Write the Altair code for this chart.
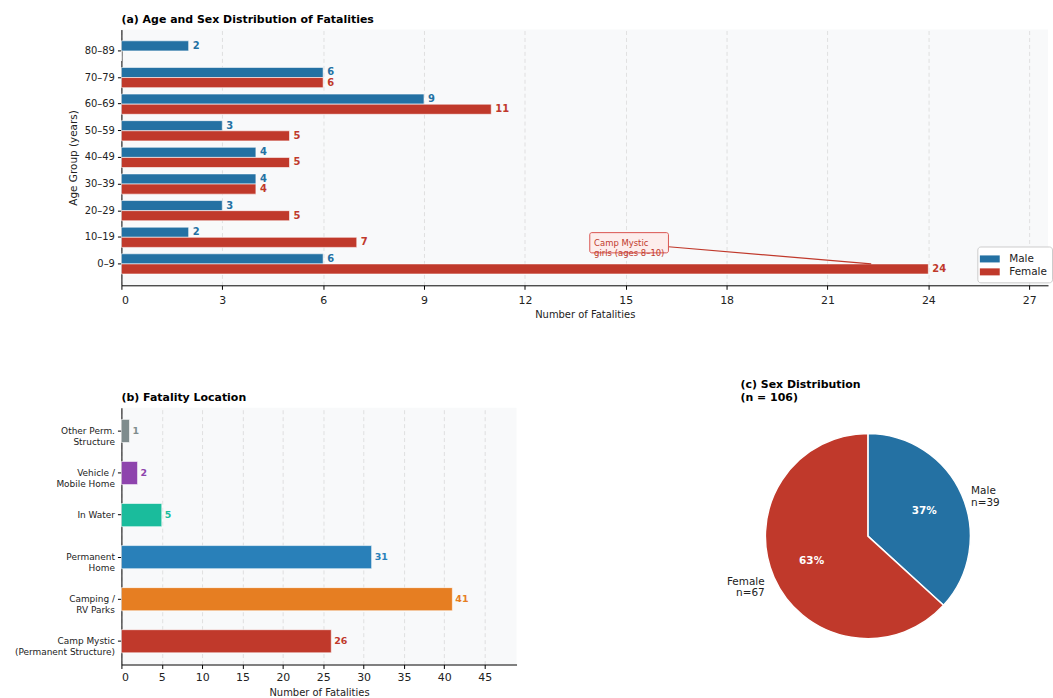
import altair as alt
import pandas as pd

FONT = "DejaVu Sans"

# ---------------- data ----------------
age_groups = ["80–89", "70–79", "60–69", "50–59", "40–49", "30–39", "20–29", "10–19", "0–9"]
male_counts = [2, 6, 9, 3, 4, 4, 3, 2, 6]
female_counts = [0, 6, 11, 5, 5, 4, 5, 7, 24]
sexes = ["Male", "Female"]
sex_colors = ["#2471a3", "#c0392b"]

locations = ["Other Perm.\nStructure", "Vehicle /\nMobile Home", "In Water",
             "Permanent\nHome", "Camping /\nRV Parks", "Camp Mystic\n(Permanent Structure)"]
location_counts = [1, 2, 5, 31, 41, 26]
location_colors = ["#7f8c8d", "#8e44ad", "#1abc9c", "#2980b9", "#e67e22", "#c0392b"]

pie_sexes = ["Male", "Female"]
pie_counts = [39, 67]
pie_colors = ["#2471a3", "#c0392b"]

annot_text = ["Camp Mystic", "girls (ages 8–10)"]

# ---------------- tables ----------------
age_df = pd.DataFrame(
    [{"age": a, "sex": "Male", "n": m} for a, m in zip(age_groups, male_counts)]
    + [{"age": a, "sex": "Female", "n": f} for a, f in zip(age_groups, female_counts)]
)
loc_df = pd.DataFrame({"loc": locations, "n": location_counts, "col": location_colors})
total = sum(pie_counts)
pie_df = pd.DataFrame({
    "sex": pie_sexes, "n": pie_counts, "col": pie_colors, "order": [0, 1],
    "lab": [f"{s}\nn={c}" for s, c in zip(pie_sexes, pie_counts)],
    "pct": [f"{round(100 * c / total)}%" for c in pie_counts],
})
annot_df = pd.DataFrame({"age": ["10–19"], "x0": [13.93], "x1": [16.27], "tx": [14.0],
                         "txt": ["\n".join(annot_text)]})
arrow_df = pd.DataFrame({"age": ["10–19"], "age2": ["0–9"], "x0": [16.27], "x1": [22.3]})

BG = alt.ViewBackground(fill="#f8f9fa", stroke=None)


def ptitle(text):
    return alt.TitleParams(text, anchor="start", frame="group", fontSize=11, fontWeight="bold",
                           font=FONT, offset=5, color="black", lineHeight=13)


# ---------------- panel (a) ----------------
W_A, H_A = 931, 257
xA = alt.Scale(domain=[0, 27.56], nice=False, zero=True)
yA = alt.Scale(domain=age_groups, paddingInner=0.24, paddingOuter=0.4237)

x_axis_a = alt.Axis(values=list(range(0, 28, 3)), title="Number of Fatalities", grid=True,
                    gridDash=[4, 3], gridColor="#d9d9d9", gridWidth=0.8,
                    labelFontSize=11, titleFontSize=10, titleFontWeight="normal",
                    labelPadding=5, titlePadding=4)
y_axis_a = alt.Axis(title="Age Group (years)", grid=False, labelFontSize=10,
                    titleFontSize=10.5, titleFontWeight="normal", labelPadding=3, titlePadding=6)

bars_a = alt.Chart(age_df).mark_bar(stroke="white", strokeWidth=0.6).encode(
    x=alt.X("n:Q", scale=xA, axis=x_axis_a),
    y=alt.Y("age:N", scale=yA, sort=age_groups, axis=y_axis_a),
    yOffset=alt.YOffset("sex:N", sort=sexes, scale=alt.Scale(domain=sexes)),
    color=alt.Color("sex:N", scale=alt.Scale(domain=sexes, range=sex_colors),
                    legend=alt.Legend(title=None, orient="none", legendX=860, legendY=218,
                                      symbolType="M-1.33,-0.47H1.33V0.47H-1.33Z", symbolSize=225,
                                      symbolStrokeWidth=0, labelFontSize=10.5, labelColor="#222",
                                      labelFont=FONT, fillColor="white", strokeColor="#cccccc",
                                      cornerRadius=3, padding=5, rowPadding=0, labelOffset=12)),
)
labels_a = alt.Chart(age_df).transform_filter("datum.n > 0").mark_text(
    align="left", baseline="middle", dx=4, fontSize=10, fontWeight="bold", font=FONT
).encode(
    x=alt.X("n:Q", scale=xA),
    y=alt.Y("age:N", scale=yA, sort=age_groups),
    yOffset=alt.YOffset("sex:N", sort=sexes, scale=alt.Scale(domain=sexes)),
    text="n:Q",
    color=alt.Color("sex:N", scale=alt.Scale(domain=sexes, range=sex_colors), legend=None),
)
box_a = alt.Chart(annot_df).mark_bar(fill="#fdedec", stroke="#d9534f", strokeWidth=1,
                                     cornerRadius=2, yOffset=5.5).encode(
    x=alt.X("x0:Q", scale=xA), x2="x1:Q", y=alt.Y("age:N", scale=yA, sort=age_groups))
text_a = alt.Chart(annot_df).mark_text(align="left", baseline="middle", dx=2, yOffset=5.5,
                                       fontSize=8.5, color="#c0392b", lineBreak="\n",
                                       lineHeight=10, font=FONT).encode(
    x=alt.X("tx:Q", scale=xA), y=alt.Y("age:N", scale=yA, sort=age_groups), text="txt:N")
arrow_a = alt.Chart(arrow_df).mark_rule(color="#c0392b", strokeWidth=1.2, yOffset=9.5,
                                        y2Offset=0).encode(
    x=alt.X("x0:Q", scale=xA), x2="x1:Q",
    y=alt.Y("age:N", scale=yA, sort=age_groups), y2="age2:N")

panel_a = alt.layer(bars_a, labels_a, arrow_a, box_a, text_a).properties(
    width=W_A, height=H_A, view=BG,
    title=ptitle("(a) Age and Sex Distribution of Fatalities"))

# ---------------- panel (b) ----------------
W_B, H_B = 397, 258
xB = alt.Scale(domain=[0, 48.95], nice=False)
yB = alt.Scale(domain=locations, paddingInner=0.45, paddingOuter=0.2775)
bars_b = alt.Chart(loc_df).mark_bar(stroke="white", strokeWidth=0.6).encode(
    x=alt.X("n:Q", scale=xB, axis=alt.Axis(values=list(range(0, 46, 5)), title="Number of Fatalities",
                                           grid=True, gridDash=[4, 3], gridColor="#d9d9d9",
                                           gridWidth=0.8, labelFontSize=11, titleFontSize=10,
                                           titleFontWeight="normal", labelPadding=3, titlePadding=5)),
    y=alt.Y("loc:N", scale=yB, sort=locations,
            axis=alt.Axis(title=None, labelExpr="split(datum.label, '\\n')", labelFontSize=9,
                          labelLineHeight=11, labelPadding=3, grid=False)),
    color=alt.Color("col:N", scale=None),
)
labels_b = alt.Chart(loc_df).mark_text(align="left", baseline="middle", dx=3, fontSize=9.5,
                                       fontWeight="bold", font=FONT).encode(
    x=alt.X("n:Q", scale=xB), y=alt.Y("loc:N", scale=yB, sort=locations), text="n:Q",
    color=alt.Color("col:N", scale=None))
panel_b = alt.layer(bars_b, labels_b).properties(
    width=W_B, height=H_B, view=BG, title=ptitle("(b) Fatality Location"))

# ---------------- panel (c) ----------------
R = 103
base_c = alt.Chart(pie_df).encode(
    theta=alt.Theta("n:Q", stack=True),
    order=alt.Order("order:Q"),
)
arc_c = base_c.mark_arc(outerRadius=R, stroke="white", strokeWidth=1.5).encode(
    color=alt.Color("col:N", scale=None))
pct_c = base_c.mark_text(radius=R * 0.6, fontSize=10.5, fontWeight="bold", color="white",
                         font=FONT).encode(text="pct:N")
lab_m = base_c.mark_text(radius=R * 1.1, align="left", baseline="middle", fontSize=10.5,
                         color="#222", lineBreak="\n", lineHeight=12, font=FONT).encode(
    text=alt.condition("datum.sex == 'Male'", "lab:N", alt.value("")))
lab_f = base_c.mark_text(radius=R * 1.1, align="right", baseline="middle", fontSize=10.5,
                         color="#222", lineBreak="\n", lineHeight=12, font=FONT).encode(
    text=alt.condition("datum.sex == 'Female'", "lab:N", alt.value("")))
panel_c = alt.layer(arc_c, pct_c, lab_m, lab_f).properties(
    width=256, height=258, title=ptitle(["(c) Sex Distribution", "(n = 106)"]))

bottom = alt.hconcat(panel_b, panel_c, spacing=225, bounds="flush")
chart = alt.vconcat(panel_a, bottom, spacing=123, bounds="flush").properties(
    padding={"left": 14, "top": 12, "right": 0, "bottom": 0}
).configure_view(stroke=None).configure_axis(
    domainColor="black", tickColor="black", domainWidth=1, labelColor="#222", titleColor="#222",
    labelFont=FONT, titleFont=FONT, tickSize=4
).configure_text(font=FONT).configure_title(font=FONT)

chart.save("out.html", embed_options={"renderer": "svg", "actions": False})
